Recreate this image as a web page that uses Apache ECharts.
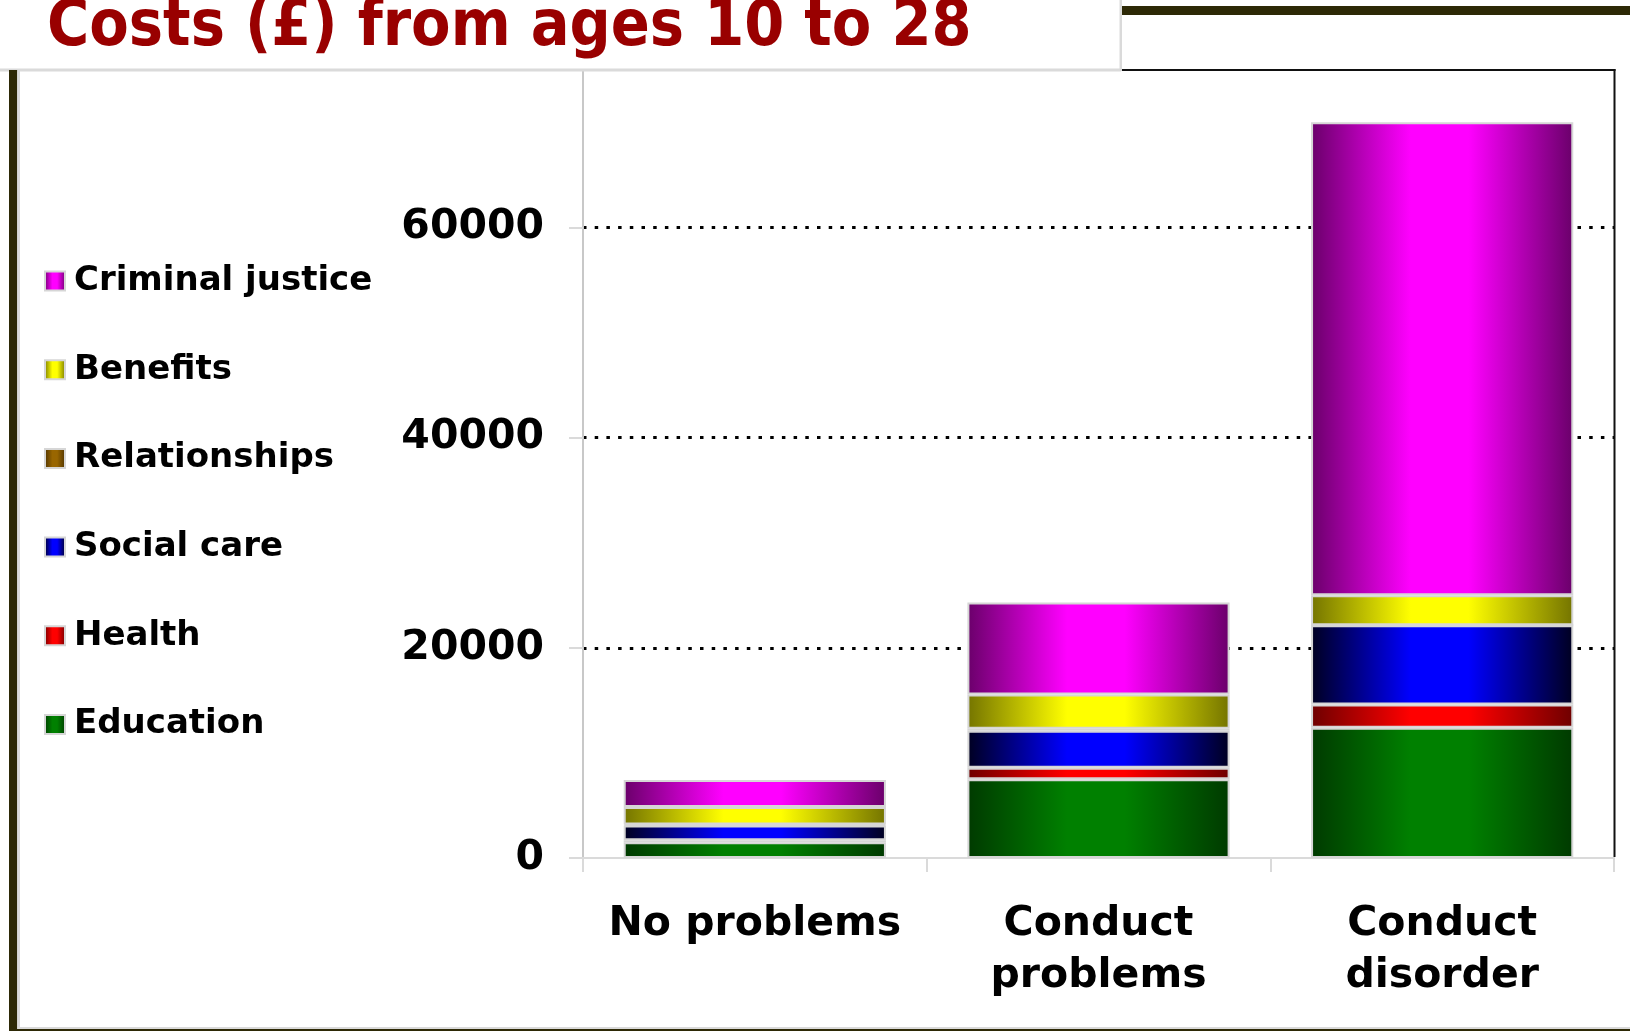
<!DOCTYPE html>
<html>
<head>
<meta charset="utf-8">
<script src="https://cdn.jsdelivr.net/npm/echarts@6/dist/echarts.min.js"></script>
<style>
html,body{margin:0;padding:0;background:#fff;}
#chart{width:1630px;height:1031px;}
</style>
</head>
<body>
<div id="chart"></div>
<script>
const titleText = 'Costs (£) from ages 10 to 28';
const categories = ['No problems', 'Conduct\nproblems', 'Conduct\ndisorder'];
const education = [1500, 7500, 12400];
const health = [200, 1100, 2200];
const socialCare = [1400, 3500, 7550];
const relationships = [100, 200, 0];
const benefits = [1650, 3250, 2850];
const criminalJustice = [2573, 8774, 45019];
const legendOrder = ['Criminal justice', 'Benefits', 'Relationships', 'Social care', 'Health', 'Education'];

function grad(dark, bright) {
  return new echarts.graphic.LinearGradient(0, 0, 1, 0, [
    {offset: 0, color: dark},
    {offset: 0.38, color: bright},
    {offset: 0.6, color: bright},
    {offset: 1, color: dark}
  ]);
}

const seriesDefs = [
  {name: 'Education', data: education, dark: '#003a00', bright: '#008000'},
  {name: 'Health', data: health, dark: '#6e0000', bright: '#ff0000'},
  {name: 'Social care', data: socialCare, dark: '#000020', bright: '#0000ff'},
  {name: 'Relationships', data: relationships, dark: '#4a3000', bright: '#996600'},
  {name: 'Benefits', data: benefits, dark: '#747400', bright: '#ffff00'},
  {name: 'Criminal justice', data: criminalJustice, dark: '#6a006a', bright: '#ff00ff'}
];

const chart = echarts.init(document.getElementById('chart'), null, {renderer: 'canvas'});
const FONT = 'DejaVu Sans';
const frame = '#2d2906';
const lightGray = '#dadada';

chart.setOption({
  animation: false,
  backgroundColor: '#ffffff',
  grid: {left: 583, right: 16, top: 70, bottom: 173, containLabel: false},
  legend: {
    orient: 'vertical',
    left: 39,
    top: 259,
    itemWidth: 20,
    itemHeight: 19,
    itemGap: 54.7,
    icon: 'rect',
    data: legendOrder,
    textStyle: {fontFamily: FONT, fontWeight: 'bold', fontSize: 34, lineHeight: 34, color: '#000', padding: [0, 0, 0, 4]},
    selectedMode: false
  },
  xAxis: {
    type: 'category',
    data: categories,
    axisLine: {show: true, lineStyle: {color: lightGray, width: 2}},
    axisTick: {show: true, length: 14, lineStyle: {color: lightGray, width: 2}},
    axisLabel: {interval: 0, fontFamily: FONT, fontWeight: 'bold', fontSize: 41, lineHeight: 52, color: '#000', margin: 40},
    splitLine: {show: false}
  },
  yAxis: {
    type: 'value',
    min: 0,
    max: 75000,
    interval: 20000,
    axisLine: {show: true, lineStyle: {color: '#c8c8c8', width: 2}},
    axisTick: {show: true, length: 14, lineStyle: {color: lightGray, width: 2}},
    axisLabel: {fontFamily: FONT, fontWeight: 'bold', fontSize: 41, color: '#000', margin: 39, showMaxLabel: false,
      padding: [7, 0, 0, 0], formatter: v => String(v)},
    splitLine: {show: true, showMinLine: false, showMaxLine: false, lineStyle: {color: '#000', width: 3, type: [3.5, 8.2]}}
  },
  series: seriesDefs.map(s => ({
    name: s.name,
    type: 'bar',
    stack: 'total',
    barCategoryGap: '23.7%',
    data: s.data,
    itemStyle: {color: grad(s.dark, s.bright), borderColor: '#d6d6d6', borderWidth: 2}
  })),
  graphic: [
    {type: 'rect', z: 100, shape: {x: 0, y: 68.5, width: 1121, height: 3}, style: {fill: lightGray}},
    {type: 'rect', z: 100, shape: {x: 1119.5, y: 0, width: 2.5, height: 71}, style: {fill: lightGray}},
    {type: 'rect', z: 100, shape: {x: 1122, y: 6, width: 508, height: 9}, style: {fill: frame}},
    {type: 'rect', z: 100, shape: {x: 1122, y: 69, width: 493.5, height: 2}, style: {fill: '#111'}},
    {type: 'rect', z: 100, shape: {x: 1613.5, y: 69, width: 2, height: 788}, style: {fill: '#111'}},
    {type: 'rect', z: 100, shape: {x: 9, y: 70, width: 8.3, height: 961}, style: {fill: frame}},
    {type: 'rect', z: 100, shape: {x: 17.3, y: 70, width: 2.7, height: 957}, style: {fill: lightGray}},
    {type: 'rect', z: 100, shape: {x: 17.3, y: 1027, width: 1612.7, height: 2}, style: {fill: lightGray}},
    {type: 'rect', z: 100, shape: {x: 9, y: 1029, width: 1621, height: 2}, style: {fill: frame}},
    {type: 'text', z: 101, x: 47, y: 28, style: {
      text: titleText, fill: '#990000',
      font: 'bold 64px "DejaVu Sans Condensed", "Liberation Sans Narrow", "DejaVu Sans"',
      verticalAlign: 'middle', align: 'left'
    }}
  ]
});
</script>
</body>
</html>
